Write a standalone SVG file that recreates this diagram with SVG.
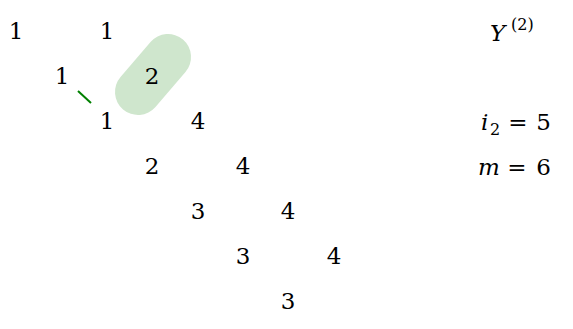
<svg xmlns="http://www.w3.org/2000/svg" width="573" height="329" viewBox="0 0 573 329">
<style>
text{font-family:'DejaVu Serif','Liberation Serif',serif;fill:#000}
.n{font-size:23px;text-anchor:middle}
.l{font-size:23px}
.i{font-style:italic}
.s{font-size:16px;font-style:normal}
.eq{font-size:23px;text-anchor:middle}
</style>
<rect width="573" height="329" fill="#fff"/>
<g id="highlight">
<line x1="138" y1="92" x2="168" y2="57" stroke="#cfe6cd" stroke-width="46" stroke-linecap="round"/>
</g>
<g id="connectors">
<line x1="78" y1="91" x2="91" y2="103" stroke="#008000" stroke-width="2"/>
</g>
<g id="nodes">
<g id="n1"><text class="n" x="16" y="39">1</text></g>
<g id="n2"><text class="n" x="107" y="39">1</text></g>
<g id="n3"><text class="n" x="62" y="84">1</text></g>
<g id="n4"><text class="n" x="152" y="84">2</text></g>
<g id="n5"><text class="n" x="107" y="129">1</text></g>
<g id="n6"><text class="n" x="198" y="129">4</text></g>
<g id="n7"><text class="n" x="152" y="174">2</text></g>
<g id="n8"><text class="n" x="243" y="174">4</text></g>
<g id="n9"><text class="n" x="198" y="219">3</text></g>
<g id="n10"><text class="n" x="288" y="219">4</text></g>
<g id="n11"><text class="n" x="243" y="264">3</text></g>
<g id="n12"><text class="n" x="334" y="264">4</text></g>
<g id="n13"><text class="n" x="288" y="309">3</text></g>
</g>
<g id="labels">
<text class="l i" x="490" y="41">Y</text>
<text class="s" x="511" y="30">(2)</text>
<text class="l i" x="481" y="130">i</text>
<text class="s" x="490" y="135">2</text>
<text class="eq" x="518" y="130">=</text>
<text class="n" x="543.5" y="130">5</text>
<text class="l i" x="478" y="175">m</text>
<text class="eq" x="517" y="175">=</text>
<text class="n" x="543.5" y="175">6</text>
</g>
</svg>
